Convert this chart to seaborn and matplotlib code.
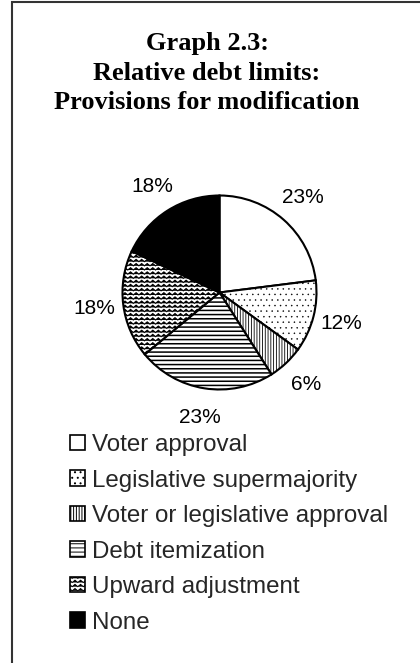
import warnings
import numpy as np
import matplotlib
matplotlib.use("Agg")
import matplotlib.pyplot as plt
import matplotlib.patches as mpatches
import matplotlib.hatch as mhatch
from matplotlib.path import Path
import seaborn as sns

warnings.filterwarnings("ignore")

categories = ["Voter approval", "Legislative supermajority",
              "Voter or legislative approval", "Debt itemization",
              "Upward adjustment", "None"]
shares = [23, 12, 6, 23, 18, 18]
title_lines = ["Graph 2.3:", "Relative debt limits:", "Provisions for modification"]

face_colors = ["white", "white", "white", "white", "white", "black"]
hatches = [None, "...", "||||||", "----", "zzzz", None]
hatch_widths = [0.7, 0.3, 0.6, 1.1, 0.8, 0.7]


class ZigZagHatch(mhatch.HatchPatternBase):
    """Wavy zigzag rows (Excel-style 'wave' fill)."""
    def __init__(self, hatch, density):
        self.num_rows = int(hatch.count("z") * density)
        self.teeth = int(self.num_rows * 0.75)
        self.num_vertices = self.num_rows * (2 * self.teeth + 1) if self.num_rows else 0

    def set_vertices_and_codes(self, vertices, codes):
        n, k = self.num_rows, self.teeth
        step = 1.0 / n
        xs = np.linspace(0, 1, 2 * k + 1)
        amp = np.where(np.arange(2 * k + 1) % 2 == 0, 0.0, step * 0.55)
        m = 2 * k + 1
        for i in range(n):
            y0 = i * step + step * 0.2
            vertices[i * m:(i + 1) * m, 0] = xs
            vertices[i * m:(i + 1) * m, 1] = y0 + amp
            codes[i * m] = Path.MOVETO
            codes[i * m + 1:(i + 1) * m] = Path.LINETO


mhatch._hatch_types.append(ZigZagHatch)

sns.set_theme(style="white")
plt.rcParams["font.family"] = ["Liberation Sans", "DejaVu Sans"]
plt.rcParams["hatch.linewidth"] = 0.7

fig = plt.figure(figsize=(4.2, 6.63), dpi=100)
W, H = 420, 663

# outer frame: only left and top edges fall inside the picture
frame = mpatches.Rectangle((12 / W, -0.05), 1.1, 1.05 - 2 / H,
                           transform=fig.transFigure, fill=False,
                           edgecolor="#333333", linewidth=1.5, zorder=0)
fig.add_artist(frame)

fig.text(207 / W, 1 - 73 / H, "\n".join(title_lines), ha="center", va="center",
         family=["Liberation Serif", "DejaVu Serif"], fontweight="bold",
         fontsize=19, linespacing=1.37, color="black")

# pie axes: center (219.5, 292.5), radius 97 px, limits +-1.5
r = 97
cx, cy = 219.5, 292.5
side = 3 * r
ax = fig.add_axes([(cx - side / 2) / W, (H - cy - side / 2) / H, side / W, side / H])
wedges, _, autotexts = ax.pie(
    shares, startangle=90, counterclock=False, colors=face_colors,
    autopct=lambda p: f"{p:.0f}%", pctdistance=1.3,
    wedgeprops=dict(edgecolor="black", linewidth=1.5),
    textprops=dict(fontsize=15, color="black"))
for w, h, hw in zip(wedges, hatches, hatch_widths):
    if h:
        w.set_hatch(h)
        if hasattr(w, "set_hatch_linewidth"):
            w.set_hatch_linewidth(hw)
ax.set_xlim(-1.5, 1.5)
ax.set_ylim(-1.5, 1.5)
ax.set_aspect("equal")
ax.axis("off")

handles = []
for fc, h, hw in zip(face_colors, hatches, hatch_widths):
    p = mpatches.Patch(facecolor=fc, edgecolor="black", hatch=h, linewidth=1.2)
    if h and hasattr(p, "set_hatch_linewidth"):
        p.set_hatch_linewidth(hw)
    handles.append(p)
fig.legend(handles, categories, loc="upper left",
           bbox_to_anchor=(70 / W, 1 - 434 / H), frameon=False,
           fontsize=17.4, handlelength=0.6, handleheight=0.6,
           handletextpad=0.3, labelspacing=0.56, borderpad=0,
           borderaxespad=0)

fig.savefig("out.png", dpi=100, facecolor="white")
